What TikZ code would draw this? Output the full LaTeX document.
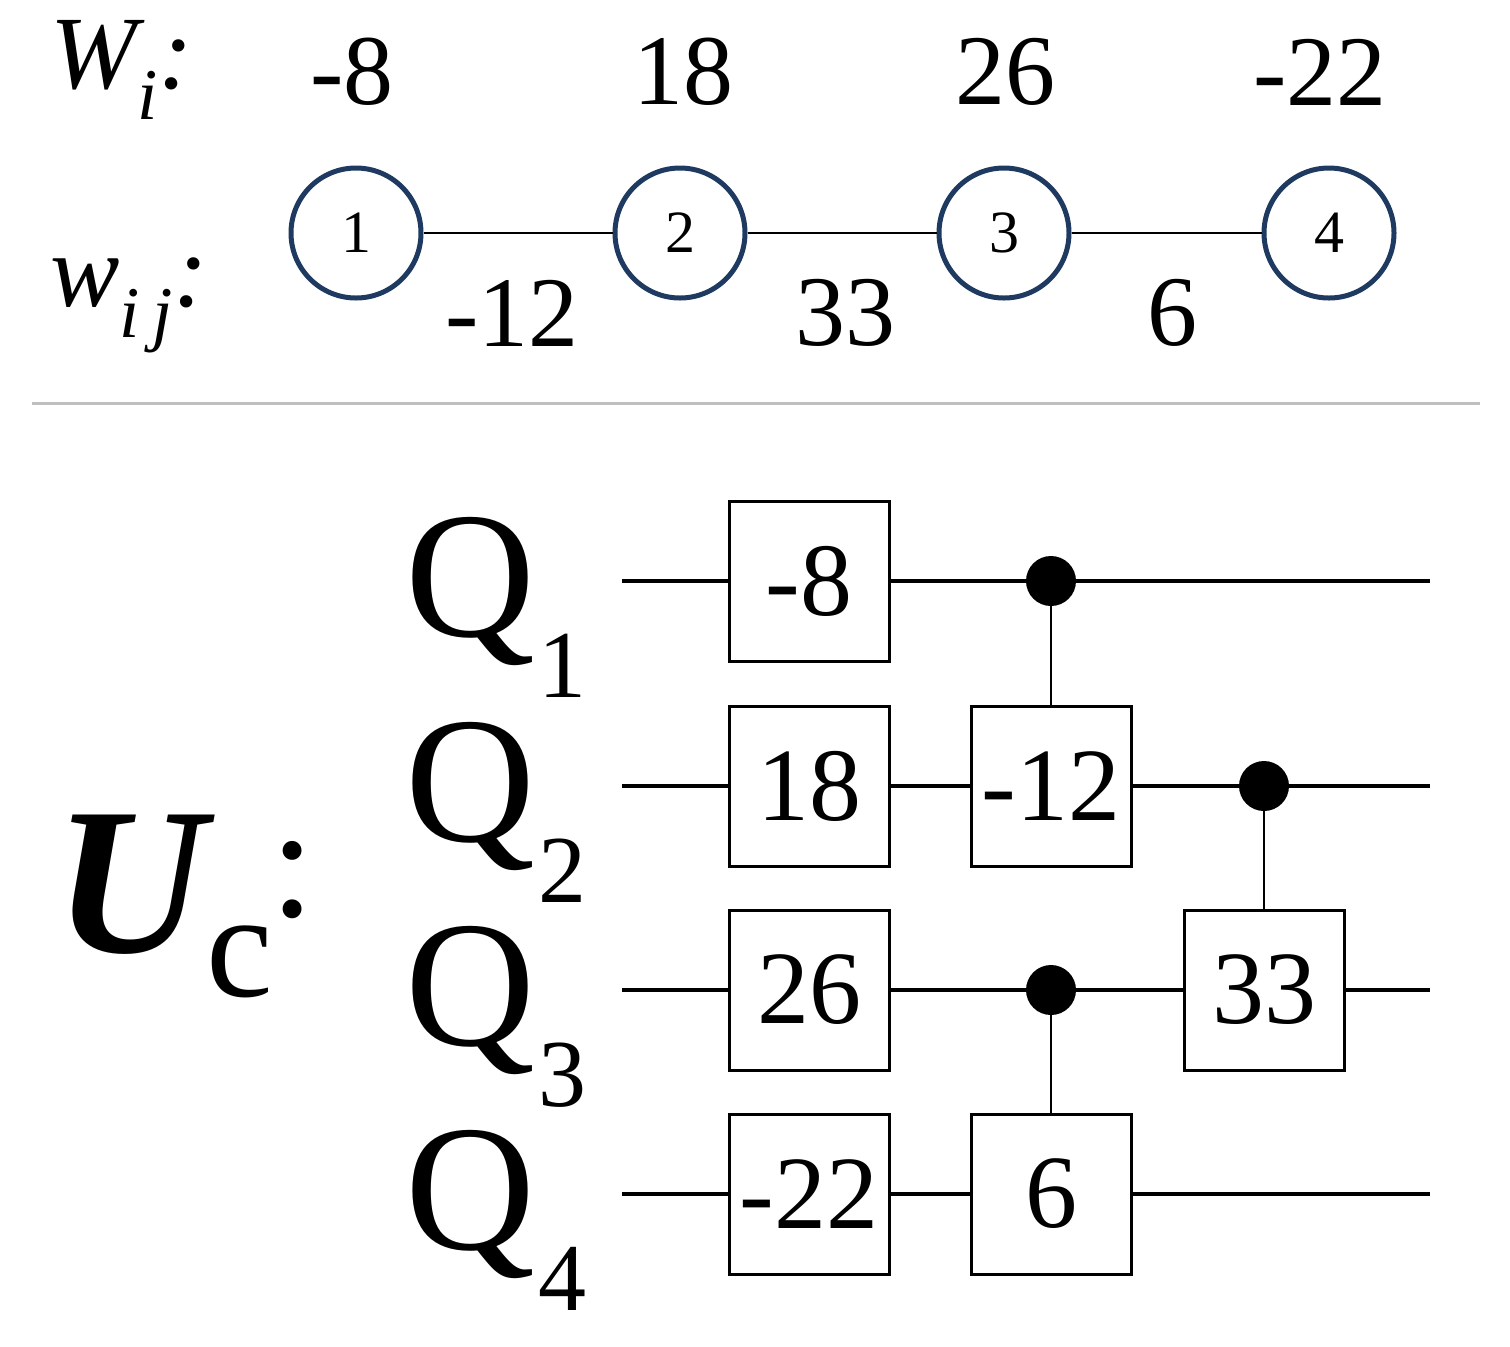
\documentclass[tikz,border=0pt]{standalone}
\usepackage{fontspec}
\setmainfont{Liberation Serif}
\definecolor{navy}{HTML}{1F3A60}
\begin{document}
\begin{tikzpicture}[x=0.5pt,y=-0.5pt,
  num/.style={font=\fontsize{50}{50}\selectfont, inner sep=0},
  cnum/.style={circle, draw=navy, line width=2.5pt, minimum size=65pt, inner sep=0, font=\fontsize{30}{30}\selectfont},
  gate/.style={draw, fill=white, line width=1.5pt, minimum size=80pt, inner sep=0, font=\fontsize{52}{52}\selectfont},
  wire/.style={line width=2pt},
  ctrl/.style={circle, fill=black, minimum size=25pt, inner sep=0},
  qlab/.style={font=\fontsize{90}{90}\selectfont, inner sep=0}]
\useasboundingbox (0,0) rectangle (1510,1346);
% top part
\node[font=\fontsize{52}{52}\selectfont\itshape, anchor=west, inner sep=0] (Wi) at (50,70) {W\textsubscript{i}:};
\node[font=\fontsize{52}{52}\selectfont\itshape, anchor=west, inner sep=0] (wij) at (50,305) {w\textsubscript{i\,j}:};
\node[num] (t1) at (352,72) {-8};
\node[num] (t2) at (683,72) {18};
\node[num] (t3) at (1005,72) {26};
\node[num] (t4) at (1320,72) {-22};
\node[cnum] (c1) at (356,233) {1};
\node[cnum] (c2) at (680,233) {2};
\node[cnum] (c3) at (1004,233) {3};
\node[cnum] (c4) at (1329,233) {4};
\draw[line width=1.2pt] (c1) -- (c2) (c2) -- (c3) (c3) -- (c4);
\node[num] (e1) at (512,313) {-12};
\node[num] (e2) at (845,313) {33};
\node[num] (e3) at (1172,313) {6};
\coordinate (sl) at (32,403); \coordinate (sr) at (1480,403);
\draw[gray!50, line width=1.5pt] (sl) -- (sr);
% bottom
\node[font=\fontsize{105}{105}\selectfont\bfseries\itshape, inner sep=0] (U) at (130,885) {U};
\node[font=\fontsize{75}{75}\selectfont, inner sep=0] (Uc) at (240,962) {c};
\node[font=\fontsize{80}{80}\selectfont, inner sep=0] (Ucol) at (293,880) {:};
\foreach \i/\y in {1/581,2/786,3/990,4/1194}{
  \node[qlab] (Q\i) at (470,\y+10) {Q};
  \node[font=\fontsize{48}{48}\selectfont, inner sep=0] (s\i) at (562,\y+85) {\i};
  \coordinate (L\i) at (622,\y);
  \coordinate (R\i) at (1430,\y);
  \draw[wire] (L\i) -- (R\i);
}
\node[gate] (g1) at (809,581) {-8};
\node[gate] (g2) at (809,786) {18};
\node[gate] (g3) at (809,990) {26};
\node[gate] (g4) at (809,1194) {-22};
\node[gate] (g12) at (1051,786) {-12};
\node[gate] (g33) at (1264,990) {33};
\node[gate] (g6) at (1051,1194) {6};
\node[ctrl] (d1) at (1051,581) {};
\node[ctrl] (d2) at (1264,786) {};
\node[ctrl] (d3) at (1051,990) {};
\draw[line width=1.2pt] (d1) -- (g12.north) (d2) -- (g33.north) (d3) -- (g6.north);
\end{tikzpicture}
\end{document}
